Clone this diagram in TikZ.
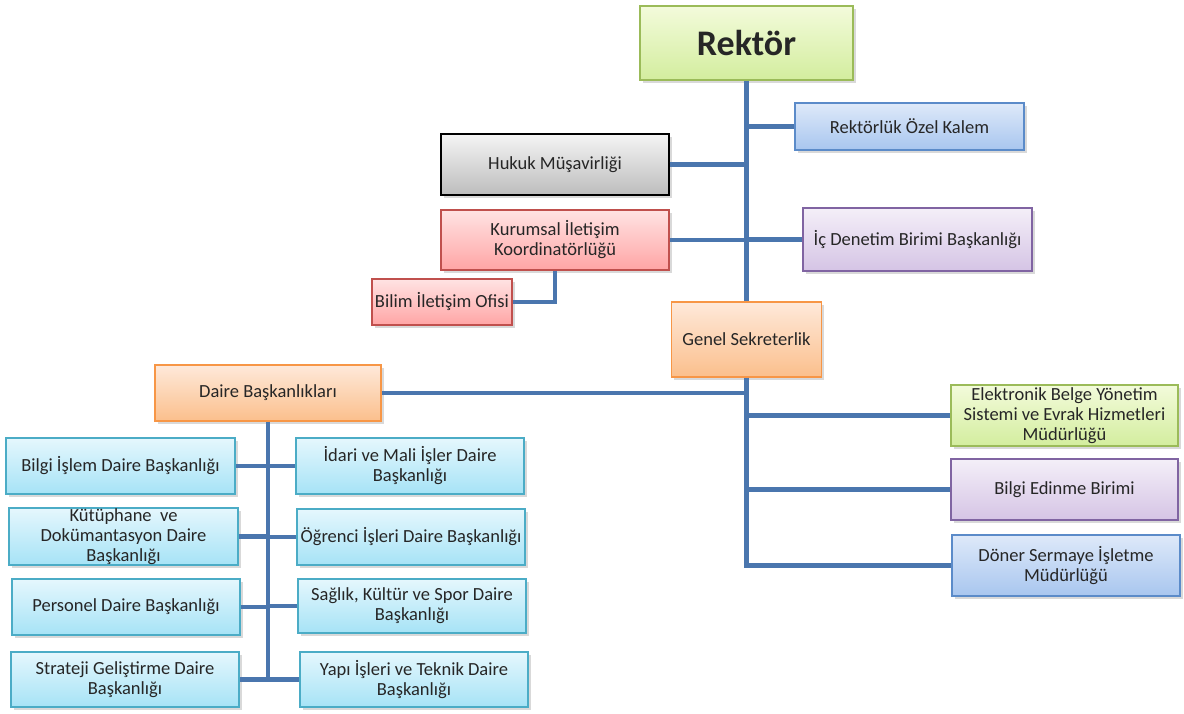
\documentclass[tikz,border=0pt]{standalone}
\usepackage{fontspec}
\setmainfont{Carlito}
\usetikzlibrary{shadows}

\definecolor{linkblue}{HTML}{4A76AE}
\definecolor{txtgray}{HTML}{262626}
\definecolor{grnline}{HTML}{9BBB59}\definecolor{grntop}{HTML}{F3FBDB}\definecolor{grnbot}{HTML}{D3ED9E}
\definecolor{bluline}{HTML}{5B8BC9}\definecolor{blutop}{HTML}{DEE9F9}\definecolor{blubot}{HTML}{A8C6EF}
\definecolor{grayline}{HTML}{000000}\definecolor{graytop}{HTML}{F4F4F4}\definecolor{graybot}{HTML}{BDBDBD}
\definecolor{redline}{HTML}{C0504D}\definecolor{redtop}{HTML}{FFE3E3}\definecolor{redbot}{HTML}{FFA5A5}
\definecolor{purline}{HTML}{8064A2}\definecolor{purtop}{HTML}{F4EFF8}\definecolor{purbot}{HTML}{D5C4E5}
\definecolor{oraline}{HTML}{F79646}\definecolor{oratop}{HTML}{FEE9DA}\definecolor{orabot}{HTML}{FBBF8C}
\definecolor{cyaline}{HTML}{4BACC6}\definecolor{cyatop}{HTML}{E5F7FD}\definecolor{cyabot}{HTML}{A6E3F6}

\begin{document}
\begin{tikzpicture}[x=1pt, y=-1pt,
  every node/.style={rectangle, draw, line width=1.4pt, align=center, text=txtgray,
    font=\fontsize{18.5}{20}\selectfont, inner sep=1pt,
    drop shadow={shadow xshift=2.5pt, shadow yshift=-3pt, opacity=.3}},
  greenbox/.style={draw=grnline, top color=grntop, bottom color=grnbot},
  bluebox/.style={draw=bluline, top color=blutop, bottom color=blubot},
  graybox/.style={draw=grayline, top color=graytop, bottom color=graybot},
  redbox/.style={draw=redline, top color=redtop, bottom color=redbot},
  purplebox/.style={draw=purline, top color=purtop, bottom color=purbot},
  orangebox/.style={draw=oraline, top color=oratop, bottom color=orabot},
  cyanbox/.style={draw=cyaline, top color=cyatop, bottom color=cyabot},
  link/.style={draw=linkblue, line width=4.5pt}]
  \useasboundingbox (0,0) rectangle (1184,714);

  \node[greenbox, minimum width=213pt, minimum height=74pt, font=\fontsize{36}{40}\selectfont\bfseries] (rektor) at (746.5, 43) {Rektör};
  \node[bluebox, minimum width=229pt, minimum height=47pt] (ozel) at (909.5, 126.5) {Rektörlük Özel Kalem};
  \node[graybox, minimum width=228pt, minimum height=61pt] (hukuk) at (555, 164.5) {Hukuk Müşavirliği};
  \node[redbox, minimum width=228pt, minimum height=60pt] (kurumsal) at (555, 240) {Kurumsal İletişim\\Koordinatörlüğü};
  \node[purplebox, minimum width=229pt, minimum height=63pt] (denetim) at (917.5, 239.5) {İç Denetim Birimi Başkanlığı};
  \node[redbox, minimum width=140pt, minimum height=46pt] (bilim) at (442, 302) {Bilim İletişim Ofisi};
  \node[orangebox, minimum width=150pt, minimum height=75pt] (genel) at (746.5, 339.5) {Genel Sekreterlik};
  \node[orangebox, minimum width=226pt, minimum height=56pt] (daire) at (268, 393) {Daire Başkanlıkları};
  \node[greenbox, minimum width=227pt, minimum height=61pt] (ebys) at (1064.5, 415.5) {Elektronik Belge Yönetim\\Sistemi ve Evrak Hizmetleri\\Müdürlüğü};
  \node[purplebox, minimum width=227pt, minimum height=61pt] (edinme) at (1064.5, 489.5) {Bilgi Edinme Birimi};
  \node[bluebox, minimum width=228pt, minimum height=61pt] (doner) at (1066, 565.5) {Döner Sermaye İşletme\\Müdürlüğü};

  \node[cyanbox, minimum width=229pt, minimum height=56pt] (bidb) at (120.5, 466) {Bilgi İşlem Daire Başkanlığı};
  \node[cyanbox, minimum width=229pt, minimum height=57pt, inner sep=0pt] (kdb) at (123.5, 536.5) {Kütüphane\ \ ve\\Dokümantasyon Daire\\Başkanlığı};
  \node[cyanbox, minimum width=228pt, minimum height=56pt] (pdb) at (126, 607) {Personel Daire Başkanlığı};
  \node[cyanbox, minimum width=228pt, minimum height=55pt] (sgdb) at (125, 679.5) {Strateji Geliştirme Daire\\Başkanlığı};
  \node[cyanbox, minimum width=228pt, minimum height=56pt] (imidb) at (410, 466) {İdari ve Mali İşler Daire\\Başkanlığı};
  \node[cyanbox, minimum width=228pt, minimum height=56pt] (oidb) at (411, 537) {Öğrenci İşleri Daire Başkanlığı};
  \node[cyanbox, minimum width=228pt, minimum height=54pt] (skdb) at (412, 606) {Sağlık, Kültür ve Spor Daire\\Başkanlığı};
  \node[cyanbox, minimum width=228pt, minimum height=55pt] (ytdb) at (414, 679.5) {Yapı İşleri ve Teknik Daire\\Başkanlığı};

  \draw[link] (rektor.south) -- (genel.north);
  \draw[link] (ozel.west) -- (ozel.west -| rektor.south);
  \draw[link] (hukuk.east) -- (hukuk.east -| rektor.south);
  \draw[link] (kurumsal.east) -- (kurumsal.east -| rektor.south);
  \draw[link] (denetim.west) -- (denetim.west -| rektor.south);
  \draw[link] (kurumsal.south) |- (bilim.east);
  \draw[link] (genel.south) |- (doner.west);
  \draw[link] (daire.east) -- (daire.east -| genel.south);
  \draw[link] (ebys.west) -- (ebys.west -| genel.south);
  \draw[link] (edinme.west) -- (edinme.west -| genel.south);
  \draw[link] (daire.south) |- (sgdb.east);
  \draw[link] (bidb.east) -- (bidb.east -| daire.south);
  \draw[link] (kdb.east) -- (kdb.east -| daire.south);
  \draw[link] (pdb.east) -- (pdb.east -| daire.south);
  \draw[link] (imidb.west) -- (imidb.west -| daire.south);
  \draw[link] (oidb.west) -- (oidb.west -| daire.south);
  \draw[link] (skdb.west) -- (skdb.west -| daire.south);
  \draw[link] (ytdb.west) -- (ytdb.west -| daire.south);
\end{tikzpicture}
\end{document}
